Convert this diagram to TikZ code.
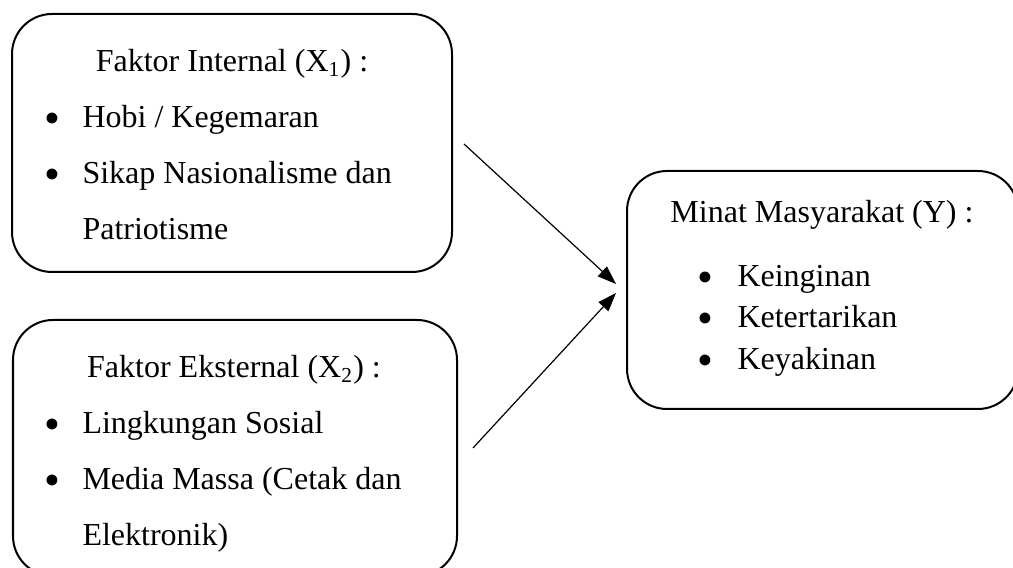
\documentclass[tikz,border=0pt]{standalone}
\usepackage{fontspec}
\setmainfont{Liberation Serif}
\usetikzlibrary{arrows.meta,calc}
\tikzset{
  box/.style={draw, line width=0.75pt, rounded corners=15pt, inner sep=0pt},
  judul/.style={anchor=base, inner sep=0pt, font=\fontsize{12}{14}\selectfont},
  isi/.style={anchor=base west, inner sep=0pt, font=\fontsize{12}{14}\selectfont},
  titik/.style={anchor=base, inner sep=0pt, font=\fontsize{17}{17}\selectfont},
  panah/.style={-{Triangle[length=7pt,width=5pt]}, line width=0.45pt}
}
\begin{document}
\begin{tikzpicture}[x=0.375pt,y=0.375pt,yscale=-1,xscale=1]
\useasboundingbox (0,0) rectangle (1013,568);
% kotak variabel
\node (fint) [box, minimum width=165pt, minimum height=96.75pt] at (232,143) {};
\node (fext) [box, minimum width=166.5pt, minimum height=96pt] at (235,448) {};
\node (minat) [box, minimum width=146.6pt, minimum height=89.25pt] at (822.5,290) {};
% faktor internal
\node (fintT) [judul] at (232,72) {Faktor Internal (X\textsubscript{1}) :};
\node (fintB1) [titik] at (52,134) {\textbullet};
\node (fintI1) [isi] at (82,128) {Hobi / Kegemaran};
\node (fintB2) [titik] at (52,190) {\textbullet};
\node (fintI2) [isi] at (82,184) {Sikap Nasionalisme dan};
\node (fintI3) [isi] at (82,240) {Patriotisme};
% faktor eksternal
\node (fextT) [judul] at (234,378) {Faktor Eksternal (X\textsubscript{2}) :};
\node (fextB1) [titik] at (52,440) {\textbullet};
\node (fextI1) [isi] at (82,434) {Lingkungan Sosial};
\node (fextB2) [titik] at (52,496) {\textbullet};
\node (fextI2) [isi] at (82,490) {Media Massa (Cetak dan};
\node (fextI3) [isi] at (82,546) {Elektronik)};
% minat masyarakat
\node (minatT) [judul] at (822,223) {Minat Masyarakat (Y) :};
\node (minatB1) [titik] at (705,293) {\textbullet};
\node (minatI1) [isi] at (737,287) {Keinginan};
\node (minatB2) [titik] at (705,334) {\textbullet};
\node (minatI2) [isi] at (737,328) {Ketertarikan};
\node (minatB3) [titik] at (705,376) {\textbullet};
\node (minatI3) [isi] at (737,370) {Keyakinan};
% panah
\coordinate (a1) at ($(fint.east)+(11,1)$);
\coordinate (a2) at ($(fext.east)+(15,0)$);
\coordinate (t1) at ($(minat.west)+(-10,-6)$);
\coordinate (t2) at ($(minat.west)+(-10,3)$);
\draw [panah] (a1) -- (t1);
\draw [panah] (a2) -- (t2);
\end{tikzpicture}
\end{document}
